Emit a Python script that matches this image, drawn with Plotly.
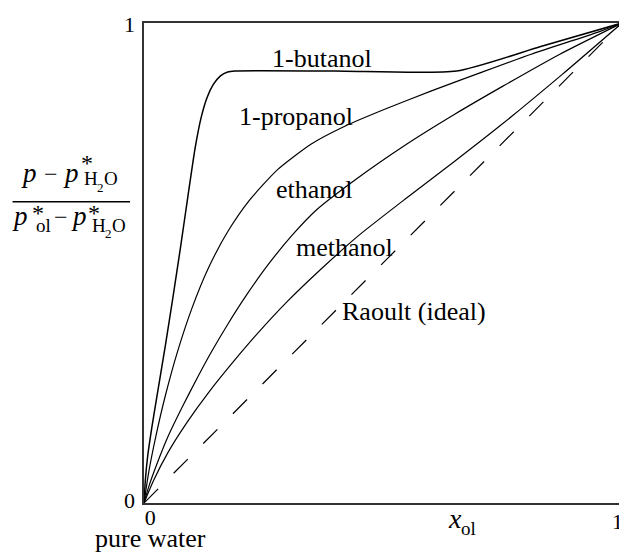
import plotly.graph_objects as go

# mole fraction of alcohol (x) and reduced vapour pressure (y)
butanol_x = [0, 0.003, 0.008, 0.016, 0.030, 0.045, 0.060, 0.076, 0.092, 0.107, 0.120, 0.132, 0.145, 0.160, 0.175, 0.19, 0.40, 0.654, 0.83, 1.0]
butanol_y = [0, 0.050, 0.100, 0.155, 0.240, 0.330, 0.425, 0.530, 0.640, 0.740, 0.805, 0.845, 0.872, 0.890, 0.898, 0.90, 0.90, 0.90, 0.951, 1.0]

propanol_x = [0, 0.010, 0.025, 0.045, 0.070, 0.100, 0.135, 0.175, 0.220, 0.280, 0.350, 0.420, 0.510, 0.600, 0.700, 0.810, 0.950, 1.0]
propanol_y = [0, 0.065, 0.140, 0.225, 0.315, 0.405, 0.490, 0.565, 0.630, 0.695, 0.748, 0.785, 0.823, 0.858, 0.895, 0.935, 0.981, 1.0]

ethanol_x = [0, 0.010, 0.025, 0.050, 0.080, 0.110, 0.140, 0.175, 0.215, 0.260, 0.310, 0.360, 0.440, 0.550, 0.650, 0.750, 0.870, 1.0]
ethanol_y = [0, 0.034, 0.076, 0.138, 0.200, 0.258, 0.313, 0.372, 0.434, 0.497, 0.558, 0.610, 0.672, 0.748, 0.810, 0.868, 0.935, 1.0]

methanol_x = [0, 0.020, 0.050, 0.090, 0.135, 0.190, 0.240, 0.300, 0.370, 0.450, 0.550, 0.650, 0.750, 0.875, 1.0]
methanol_y = [0, 0.047, 0.105, 0.168, 0.230, 0.298, 0.356, 0.420, 0.487, 0.558, 0.636, 0.712, 0.790, 0.893, 1.0]

raoult_x = [0, 1]
raoult_y = [0, 1]

label_text = ["1-butanol", "1-propanol", "ethanol", "methanol", "Raoult (ideal)"]
label_x = [0.372, 0.318, 0.356, 0.419, 0.565]
label_y = [0.927, 0.806, 0.653, 0.533, 0.400]

xtick_vals = [0, 1]
xtick_text = ["<span style='font-size:22px'>0</span><br><span style='font-size:26px'>pure water</span>", "1"]
ytick_vals = [0, 1]
ytick_text = ["0", "1"]

SERIF = "Liberation Serif, Times New Roman, serif"

# the page adds an 8px body margin, so the figure is shrunk by that much
OFF = 8
W, H = 627 - OFF, 554 - OFF
L, R, T, B = 144 - OFF, 3, 23 - OFF, 51
PW = W - L - R
PH = H - T - B


def px(x):
    # page pixel -> paper coordinate
    return (x - OFF - L) / PW


def py(y):
    return (H - B - (y - OFF)) / PH


fig = go.Figure()

curves = [
    (butanol_x, butanol_y, 1.5),
    (propanol_x, propanol_y, 1.2),
    (ethanol_x, ethanol_y, 1.2),
    (methanol_x, methanol_y, 1.2),
]
for xs, ys, w in curves:
    fig.add_trace(go.Scatter(
        x=xs, y=ys, mode="lines",
        line=dict(color="black", width=w, shape="spline", smoothing=0.6),
        hoverinfo="skip", showlegend=False,
    ))

fig.add_trace(go.Scatter(
    x=raoult_x, y=raoult_y, mode="lines",
    line=dict(color="black", width=1.2, dash="20px,22px"),
    hoverinfo="skip", showlegend=False,
))

annotations = []

# curve labels
for t, x, y in zip(label_text, label_x, label_y):
    annotations.append(dict(
        text=t, x=x, y=y, xref="x", yref="y", showarrow=False,
        xanchor="center", yanchor="middle",
        font=dict(family=SERIF, size=26, color="black"),
    ))

# x tick labels ("0" carries the "pure water" note underneath)
annotations.append(dict(
    text=xtick_text[0], x=xtick_vals[0], y=0, xref="x", yref="y", showarrow=False,
    xanchor="center", yanchor="middle", xshift=6, yshift=-(529 - 503),
    font=dict(family=SERIF, size=17, color="black"),
))
annotations.append(dict(
    text=xtick_text[1], x=xtick_vals[1], y=0, xref="x", yref="y", showarrow=False,
    xanchor="right", yanchor="middle", xshift=3, yshift=-18.5,
    font=dict(family=SERIF, size=22, color="black"),
))
# y tick labels
for v, t, shift in zip(ytick_vals, ytick_text, [2.5, -1.5]):
    annotations.append(dict(
        text=t, x=0, y=v, xref="x", yref="y", showarrow=False,
        xanchor="right", yanchor="middle", xshift=-7, yshift=shift,
        font=dict(family=SERIF, size=22, color="black"),
    ))


def piece(text, cx, base, size):
    # place a text piece by its centre x and baseline (page pixels)
    annotations.append(dict(
        text=text, x=px(cx), y=py(base - 0.34 * size), xref="paper", yref="paper",
        showarrow=False, xanchor="center", yanchor="middle",
        font=dict(family=SERIF, size=size, color="black"),
    ))


piece("<i>x</i>", 456, 528, 28)
piece("ol", 470, 535, 19)

# y-axis label as a built-up fraction
piece("<i>p</i>", 29, 182, 27)
piece("\u2212", 51, 182, 24)
piece("<i>p</i>", 71, 182, 27)
piece("*", 87, 171, 24)
piece("H", 91, 185, 19)
piece("2", 100.5, 192, 13)
piece("O", 110.5, 185, 19)

piece("<i>p</i>", 19, 225, 27)
piece("*", 38, 221, 24)
piece("ol", 43, 232, 19)
piece("\u2212", 61, 225, 24)
piece("<i>p</i>", 79, 225, 27)
piece("*", 94, 221, 24)
piece("H", 99, 232, 19)
piece("2", 108.5, 238, 13)
piece("O", 118.5, 232, 19)

fig.add_shape(type="line", xref="paper", yref="paper",
              x0=px(12), x1=px(130), y0=py(201.7), y1=py(201.7),
              line=dict(color="black", width=1.5))

axis_style = dict(
    range=[0, 1], showgrid=False, zeroline=False, showticklabels=False,
    ticks="", showline=True, mirror=True, linecolor="#333", linewidth=2,
    fixedrange=True,
)

fig.update_layout(
    width=W, height=H,
    margin=dict(l=L, r=R, t=T, b=B),
    paper_bgcolor="white", plot_bgcolor="white",
    xaxis=axis_style, yaxis=axis_style,
    annotations=annotations,
    showlegend=False,
)

fig.write_html("out.html")
